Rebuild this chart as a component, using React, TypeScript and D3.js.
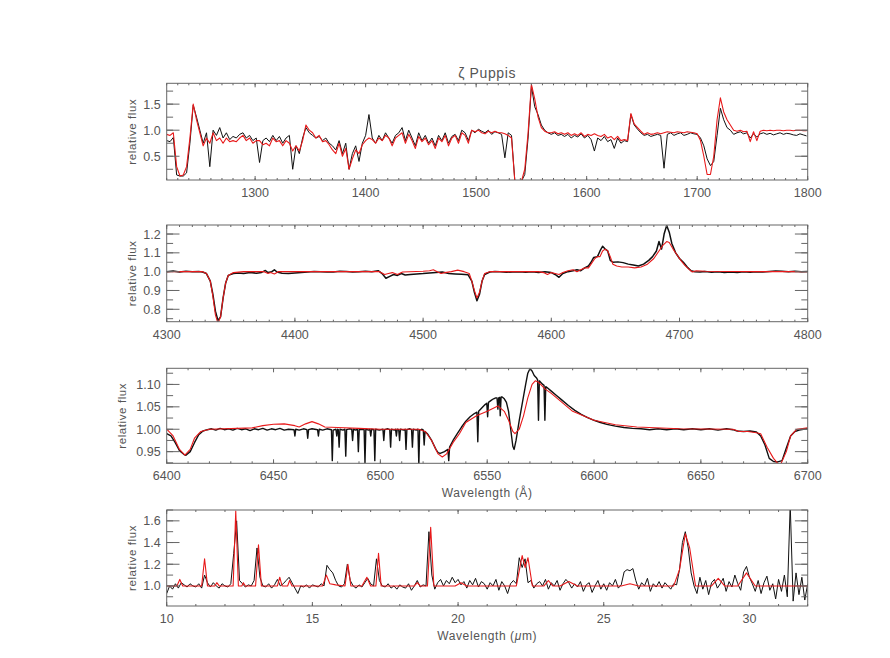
import React from "react";
import * as d3 from "d3";

type Pt = [number, number];

// ---------- Panel 1: UV (regular wavelength grid) ----------
const uvStart = 1220;
const uvStep = 3;
const uvObs = [
  0.80,0.78,0.86,0.14,0.12,0.12,0.18,0.75,1.48,1.25,
  1.00,0.75,0.95,0.30,1.00,0.90,1.05,0.85,0.95,0.82,
  0.88,0.85,0.92,0.95,0.85,0.90,0.80,0.85,0.38,0.80,
  0.85,0.78,0.90,0.80,0.88,0.75,0.85,0.90,0.25,0.70,
  0.55,0.85,1.05,0.95,0.90,0.85,0.88,0.80,0.85,0.75,
  0.70,0.62,0.80,0.55,0.75,0.25,0.55,0.70,0.40,0.75,
  0.90,1.30,0.85,0.75,0.90,0.80,0.95,0.85,0.75,0.90,
  0.95,1.05,0.80,1.00,0.85,0.70,0.95,0.80,0.90,0.75,
  0.85,0.70,0.90,0.80,0.95,0.75,0.88,0.92,0.80,1.00,
  0.95,0.80,1.00,0.95,1.02,0.98,0.95,1.00,0.92,0.97,
  0.95,0.92,0.47,0.95,0.90,0.03,0.02,0.02,0.15,0.85,
  1.85,1.45,1.30,1.10,1.00,0.95,0.92,0.95,0.90,0.92,
  0.88,0.92,0.85,0.90,0.87,0.93,0.85,0.90,0.82,0.60,
  0.85,0.80,0.88,0.78,0.82,0.65,0.85,0.75,0.80,0.78,
  1.30,1.10,1.02,0.95,0.90,0.92,0.88,0.90,0.92,0.90,
  0.27,0.92,0.95,0.90,0.93,0.95,0.90,0.92,0.95,0.93,
  0.92,0.85,0.70,0.45,0.32,0.40,0.90,1.42,1.20,1.05,
  1.00,0.92,0.95,0.97,0.93,0.95,0.85,0.93,0.87,0.93,
  0.95,0.92,0.94,0.91,0.93,0.95,0.92,0.94,0.93,0.91,
  0.90,0.93,0.91,0.89,
];
const uvModel = [
  0.92,0.90,0.95,0.30,0.12,0.14,0.30,0.85,1.50,1.20,
  0.95,0.70,0.85,0.75,0.95,0.80,0.85,0.75,0.85,0.78,
  0.80,0.78,0.85,0.90,0.80,0.85,0.75,0.80,0.80,0.72,
  0.75,0.70,0.85,0.78,0.80,0.70,0.80,0.75,0.60,0.70,
  0.60,0.80,1.10,1.00,0.95,0.85,0.90,0.78,0.80,0.72,
  0.62,0.55,0.75,0.50,0.65,0.25,0.45,0.62,0.55,0.72,
  0.80,0.85,0.82,0.75,0.85,0.80,0.90,0.85,0.70,0.85,
  0.90,0.95,0.75,0.92,0.80,0.65,0.88,0.78,0.85,0.72,
  0.80,0.65,0.85,0.78,0.90,0.70,0.85,0.90,0.75,0.95,
  0.90,0.75,1.00,0.97,1.00,0.95,0.93,0.98,0.95,0.98,
  0.95,0.95,0.93,0.90,0.85,0.02,0.02,0.02,0.25,0.95,
  1.88,1.60,1.25,1.05,0.98,0.95,0.95,0.97,0.93,0.95,
  0.92,0.95,0.90,0.93,0.90,0.95,0.88,0.92,0.90,0.93,
  0.90,0.88,0.92,0.85,0.88,0.82,0.88,0.80,0.82,0.80,
  1.32,1.12,1.05,0.98,0.92,0.95,0.92,0.93,0.95,0.93,
  0.95,0.97,0.96,0.95,0.97,0.96,0.95,0.97,0.96,0.95,
  0.93,0.80,0.50,0.15,0.15,0.50,1.20,1.62,1.35,1.20,
  1.10,1.00,0.98,1.00,0.97,0.98,0.78,0.97,0.80,0.98,
  1.00,0.99,1.00,0.99,1.00,1.00,0.99,1.00,1.00,0.99,
  1.00,1.00,0.99,0.99,
];

// ---------- Panel 2: optical blue ----------
const optObs: Pt[] = [
  [4300,1.000],[4305,1.003],[4310,0.998],[4315,1.002],[4320,0.999],[4325,1.001],[4328,0.998],[4331,0.990],
  [4334,0.950],[4336,0.880],[4338,0.790],[4340,0.740],[4342,0.760],[4344,0.860],[4346,0.940],[4348,0.980],
  [4352,0.990],[4356,0.993],[4360,0.990],[4365,0.995],[4370,0.992],[4374,0.996],[4377,1.006],[4379,0.995],
  [4382,1.000],[4384,1.010],[4386,0.998],[4390,0.992],[4395,0.990],[4400,0.993],[4405,0.996],[4410,0.998],
  [4415,1.001],[4420,1.000],[4425,0.998],[4430,0.998],[4435,1.002],[4440,1.001],[4445,0.998],[4450,0.999],
  [4455,1.002],[4460,1.000],[4465,1.005],[4468,0.990],[4471,0.965],[4474,0.975],[4477,0.985],[4480,0.980],
  [4483,0.990],[4486,0.982],[4490,0.985],[4495,0.988],[4500,0.990],[4505,0.993],[4510,0.996],[4515,0.998],
  [4520,0.990],[4525,0.988],[4530,0.986],[4535,0.984],[4538,0.950],[4540,0.890],[4542,0.845],[4544,0.880],
  [4546,0.950],[4548,0.985],[4552,0.998],[4556,1.001],[4560,1.000],[4565,0.997],[4570,0.998],[4575,1.000],
  [4580,0.997],[4585,0.999],[4590,0.996],[4595,0.999],[4600,0.995],[4603,0.985],[4606,0.970],[4609,0.990],
  [4613,1.000],[4617,1.005],[4620,1.010],[4623,1.005],[4626,1.020],[4629,1.030],[4631,1.050],[4633,1.075],
  [4636,1.080],[4638,1.110],[4640,1.135],[4642,1.120],[4644,1.110],[4646,1.060],[4648,1.050],[4652,1.052],
  [4656,1.048],[4660,1.040],[4664,1.035],[4668,1.030],[4672,1.040],[4676,1.060],[4679,1.080],[4682,1.110],
  [4684,1.160],[4686,1.120],[4688,1.200],[4690,1.245],[4692,1.210],[4694,1.150],[4697,1.100],[4700,1.070],
  [4703,1.050],[4706,1.025],[4709,1.005],[4712,1.000],[4716,0.998],[4720,1.001],[4725,0.997],[4730,0.999],
  [4735,0.996],[4740,0.998],[4745,0.996],[4750,0.999],[4755,0.997],[4760,1.000],[4765,0.998],[4770,1.001],
  [4775,1.003],[4780,1.002],[4785,1.000],[4790,1.002],[4795,1.000],[4800,1.001],
];
const optModel: Pt[] = [
  [4300,1.0],[4328,1.0],[4331,0.99],[4334,0.95],[4336,0.87],[4338,0.77],[4340,0.725],[4342,0.76],
  [4344,0.86],[4346,0.94],[4348,0.98],[4352,0.995],[4360,1.0],[4376,1.0],[4379,0.99],[4381,0.995],
  [4384,0.988],[4387,1.0],[4400,1.0],[4460,1.0],[4466,1.0],[4470,0.985],[4473,0.99],[4476,0.995],
  [4480,0.985],[4484,0.998],[4500,1.002],[4505,1.005],[4508,1.01],[4511,1.0],[4514,0.99],[4517,0.995],
  [4522,1.0],[4527,1.008],[4532,1.0],[4536,0.99],[4538,0.95],[4540,0.9],[4542,0.86],[4544,0.89],
  [4546,0.95],[4548,0.99],[4552,1.0],[4590,1.0],[4594,0.995],[4597,0.985],[4600,0.995],[4603,0.99],
  [4606,0.985],[4609,0.995],[4613,1.005],[4617,1.01],[4620,1.0],[4623,1.01],[4626,1.02],[4629,1.02],
  [4631,1.04],[4634,1.07],[4636,1.08],[4638,1.08],[4640,1.11],[4642,1.12],[4644,1.11],[4646,1.08],
  [4648,1.04],[4651,1.03],[4655,1.025],[4660,1.025],[4665,1.02],[4670,1.025],[4675,1.04],[4680,1.07],
  [4684,1.11],[4687,1.14],[4690,1.16],[4692,1.155],[4695,1.12],[4698,1.09],[4701,1.06],[4704,1.035],
  [4707,1.015],[4710,0.998],[4713,1.005],[4720,1.002],[4760,1.0],[4800,1.0],
];

// ---------- Panel 3: H-alpha region ----------
const haObs: Pt[] = [
  [6400,0.99],[6402,0.985],[6404,0.97],[6406,0.952],[6408,0.944],[6409,0.942],[6411,0.95],[6413,0.97],
  [6415,0.988],[6417,0.996],[6419,0.999],[6421,1.001],[6423,0.998],[6425,1.002],[6427,0.999],[6429,1.001],
  [6431,0.998],[6433,1.002],[6435,0.999],[6437,1.001],[6439,0.997],[6441,1.001],[6443,0.999],[6445,1.002],
  [6447,0.998],[6449,1.001],[6451,0.999],[6453,1.002],[6455,0.998],[6457,1.0],
  [6459.6,0.999],[6460,0.985],[6460.4,1.0],[6462,0.998],[6464,1.001],[6465.6,0.999],[6466,0.98],[6466.4,0.999],
  [6468,1.001],[6470.6,0.999],[6471,0.985],[6471.4,1.0],[6473,0.998],[6475,1.001],[6477.1,0.999],[6477.5,0.93],
  [6477.9,0.998],[6479.2,1.0],[6479.6,0.985],[6480,1.0],[6480.3,0.999],[6480.7,0.96],[6481.1,1.0],[6482.5,0.998],
  [6483.4,1.0],[6483.8,0.94],[6484.2,0.999],[6485.5,1.001],[6486.6,1.0],[6487,0.975],[6487.4,1.0],[6488.5,0.998],
  [6489.3,1.0],[6489.7,0.95],[6490.1,0.999],[6491.5,1.0],[6492.4,0.999],[6492.8,0.925],[6493.2,1.0],[6494.5,0.998],
  [6495.1,1.0],[6495.5,0.985],[6495.9,1.0],[6497,0.999],[6497.4,0.93],[6497.8,1.0],[6499.5,0.998],[6501.2,1.0],
  [6501.6,0.975],[6502,0.999],[6503.5,1.001],[6504.4,0.999],[6504.8,0.96],[6505.2,1.0],[6506.5,0.998],[6507.1,1.0],
  [6507.5,0.985],[6507.9,1.0],[6508.6,0.999],[6509,0.975],[6509.4,1.0],[6511,0.998],[6511.6,1.0],[6512,0.955],
  [6512.4,0.999],[6513.8,1.001],[6514.6,0.999],[6515,0.96],[6515.4,1.0],[6516.8,0.998],[6517.6,1.0],[6518,0.92],
  [6518.4,0.998],[6519.5,1.0],[6520.1,0.998],[6520.5,0.965],[6520.9,0.995],
  [6522,0.99],[6524,0.975],[6526,0.955],[6527,0.948],[6528,0.946],[6530,0.95],[6531.6,0.955],[6532,0.93],
  [6532.4,0.96],[6534,0.975],[6536,0.99],[6538,1.005],[6540,1.018],[6542,1.028],[6544,1.035],[6545.2,1.038],
  [6545.6,0.972],[6546,1.04],[6547,1.045],[6549,1.055],[6549.8,1.058],[6550.2,1.028],[6550.6,1.06],[6552,1.065],
  [6553,1.068],[6554,1.07],[6554.6,1.07],[6555,1.045],[6555.4,1.07],[6555.8,1.071],[6556.1,1.03],[6556.5,1.072],
  [6557,1.072],[6558,1.068],[6559,1.06],[6560,1.04],[6561,1.0],[6562,0.962],[6562.6,0.955],[6563.5,0.975],
  [6565,1.02],[6566.5,1.06],[6568,1.1],[6569,1.125],[6570,1.135],[6571,1.13],[6572,1.12],[6573,1.115],
  [6573.6,1.11],[6574,1.02],[6574.4,1.108],[6575,1.105],[6576,1.1],[6576.6,1.098],[6577,1.02],[6577.4,1.095],
  [6578,1.093],[6580,1.085],[6582,1.077],[6585,1.065],[6588,1.053],[6591,1.042],
  [6594,1.033],[6597,1.026],[6600,1.02],[6603,1.015],[6606,1.011],[6610,1.007],[6614,1.004],[6618,1.002],
  [6622,1.001],[6626,0.999],[6630,1.001],[6634,0.999],[6638,1.001],[6642,0.999],[6646,1.001],[6650,0.999],
  [6654,1.001],[6658,0.998],[6662,1.001],[6665,0.999],[6667,0.996],[6670,0.995],[6673,0.996],[6676,0.994],
  [6678,0.985],[6680,0.965],[6682,0.935],[6684,0.928],[6686,0.927],[6688,0.93],[6690,0.958],[6692,0.985],
  [6694,0.995],[6696,0.998],[6698,1.0],[6700,1.002],
];
const haModel: Pt[] = [
  [6400,1.0],[6403,0.985],[6406,0.955],[6408.5,0.942],[6411,0.955],[6413,0.98],[6416,0.995],[6420,1.0],
  [6440,1.003],[6445,1.008],[6450,1.011],[6455,1.012],[6460,1.008],[6462,1.005],[6465,1.012],[6468,1.017],
  [6471,1.012],[6474,1.005],[6480,1.004],[6490,1.002],[6500,1.0],[6518,1.0],[6521,0.995],[6524,0.975],
  [6527,0.945],[6529,0.938],[6531,0.945],[6534,0.97],[6537,0.99],[6540,1.015],[6545,1.03],[6550,1.04],
  [6555,1.052],[6558,1.04],[6560,1.02],[6562,0.995],[6563,0.99],[6565,1.0],[6567,1.03],[6569,1.07],
  [6571,1.1],[6572.5,1.108],[6574,1.105],[6577,1.09],[6580,1.08],[6585,1.06],[6590,1.04],[6600,1.02],
  [6610,1.01],[6620,1.005],[6640,1.001],[6665,1.0],[6668,0.995],[6672,0.995],[6676,0.992],[6678,0.99],
  [6681,0.96],[6684,0.935],[6687,0.918],[6690,0.95],[6692,0.985],[6695,1.0],[6700,1.003],
];

// ---------- Panel 4: mid-IR (regular grid in micron) ----------
const irStart = 10;
const irStep = 0.1;
const irObs = [
  0.93,1.00,0.97,1.02,0.98,1.03,1.01,0.99,1.02,1.00,
  0.99,1.02,0.98,1.10,1.03,0.99,1.03,1.00,0.98,1.02,
  1.00,0.99,1.02,1.30,1.60,1.05,1.02,0.99,1.01,1.00,
  1.05,1.35,1.08,1.00,0.99,1.02,0.98,1.01,1.06,1.00,
  1.02,1.05,1.08,1.03,0.98,0.93,1.00,0.99,1.01,0.98,
  1.01,1.00,0.99,1.02,1.00,1.19,1.15,1.12,1.05,1.00,
  0.99,1.02,1.20,1.05,1.00,0.98,1.01,0.99,1.03,1.07,
  1.02,1.00,1.25,1.05,1.00,0.99,1.02,0.98,1.00,0.97,
  1.01,0.99,0.98,1.02,0.96,1.00,1.05,0.99,1.01,1.00,
  1.50,1.10,0.97,1.03,1.06,1.00,1.05,1.02,1.08,1.03,
  1.06,1.01,1.04,0.98,1.05,1.01,1.07,0.99,1.04,1.02,
  0.97,1.03,1.00,1.06,0.96,1.04,1.00,0.93,1.02,1.05,
  1.02,1.26,1.17,1.25,1.03,1.05,0.98,1.02,1.04,1.00,
  1.06,0.97,1.03,1.00,1.05,0.96,1.02,1.06,1.03,0.98,
  1.02,0.99,1.04,0.95,1.01,1.03,0.94,1.00,1.05,0.97,
  1.02,0.96,1.03,1.00,1.06,0.98,1.01,1.13,1.15,1.14,
  1.16,1.05,0.97,1.03,1.00,1.07,0.95,1.02,0.99,1.04,
  0.98,1.03,1.00,0.97,1.02,1.01,1.15,1.40,1.50,1.35,
  1.12,1.00,0.93,1.08,0.97,1.05,0.92,1.03,1.06,0.98,
  1.02,1.07,0.95,1.04,0.99,1.10,1.02,0.96,1.13,1.18,
  1.08,1.02,0.95,1.05,0.93,1.03,1.09,0.96,1.02,0.88,
  1.06,0.95,1.10,0.90,1.75,0.86,1.12,0.92,1.08,0.87,
  1.02,
];
const irModel: Pt[] = [
  [10,1.0],[10.35,1.0],[10.45,1.06],[10.55,1.0],[11.2,1.0],[11.3,1.25],[11.4,1.0],[11.65,1.0],
  [11.72,1.03],[11.8,1.0],[12.28,1.0],[12.37,1.69],[12.46,1.0],[12.58,1.0],[12.63,1.03],[12.7,1.0],
  [13.05,1.0],[13.15,1.38],[13.25,1.0],[13.8,1.0],[13.88,1.08],[13.96,1.0],[14.15,1.0],[14.22,1.05],
  [14.3,1.0],[15.35,1.0],[15.48,1.1],[15.6,1.02],[15.8,1.01],[16.12,1.0],[16.22,1.2],[16.32,1.0],
  [16.7,1.0],[16.87,1.08],[17.0,1.0],[17.18,1.0],[17.27,1.3],[17.36,1.0],[18.5,1.0],[18.6,1.03],
  [18.7,1.0],[18.95,1.0],[19.06,1.54],[19.17,1.0],[19.9,1.0],[20.1,1.03],[20.3,1.0],[22.0,1.0],
  [22.2,1.28],[22.3,1.17],[22.4,1.26],[22.55,1.0],[22.95,1.0],[23.1,1.05],[23.25,1.0],[23.5,1.0],
  [23.8,1.04],[24.1,1.0],[25.6,1.0],[25.9,1.02],[26.2,1.0],[27.4,1.0],[27.6,1.15],[27.8,1.48],
  [27.95,1.35],[28.15,1.0],[28.7,1.0],[28.93,1.07],[29.15,1.0],[29.6,1.0],[29.9,1.12],[30.2,1.0],
  [32,1.0],
];

const FONT = "'Liberation Sans', Arial, sans-serif";
const TXT = "#555";
const AX = "#666";
const RED = "#e8191a";
const LEFT = 166.7;
const RIGHT = 807.7;

function stepTicks(d0: number, d1: number, step: number): number[] {
  const lo = Math.min(d0, d1), hi = Math.max(d0, d1);
  const start = Math.ceil(lo / step - 1e-9);
  const end = Math.floor(hi / step + 1e-9);
  return d3.range(start, end + 1).map((k) => +(k * step).toFixed(6));
}

interface PanelProps {
  id: string;
  top: number;
  bottom: number;
  xDomain: [number, number];
  yDomain: [number, number];
  xMajor: number;
  xMinor: number;
  yMajor: number;
  yMinor: number;
  yFmt: string;
  obs: Pt[];
  model: Pt[];
  obsWidth: number;
  yLabelOffset: number;
  xLabel?: React.ReactNode;
}

function Panel(p: PanelProps) {
  const x = d3.scaleLinear().domain(p.xDomain).range([LEFT, RIGHT]);
  const y = d3.scaleLinear().domain(p.yDomain).range([p.bottom, p.top]);
  const line = d3.line<Pt>().x((d) => x(d[0])).y((d) => y(d[1]));
  const xMaj = stepTicks(p.xDomain[0], p.xDomain[1], p.xMajor);
  const xMin = stepTicks(p.xDomain[0], p.xDomain[1], p.xMinor);
  const yMaj = stepTicks(p.yDomain[0], p.yDomain[1], p.yMajor);
  const yMin = stepTicks(p.yDomain[0], p.yDomain[1], p.yMinor);
  const fmt = d3.format(p.yFmt);
  const yMajLen = 12.8, yMinLen = 6.4, xMajLen = 4, xMinLen = 2;
  const h = p.bottom - p.top;
  return (
    <g>
      <defs>
        <clipPath id={p.id}>
          <rect x={LEFT} y={p.top} width={RIGHT - LEFT} height={h} />
        </clipPath>
      </defs>
      <g clipPath={`url(#${p.id})`}>
        <path d={line(p.obs) || ""} fill="none" stroke="#111" strokeWidth={p.obsWidth} strokeLinejoin="round" />
        <path d={line(p.model) || ""} fill="none" stroke={RED} strokeWidth={1.1} strokeLinejoin="round" />
      </g>
      <rect x={LEFT} y={p.top} width={RIGHT - LEFT} height={h} fill="none" stroke={AX} strokeWidth={1} />
      {xMin.map((v) => (
        <g key={"xm" + v} stroke={AX} strokeWidth={1}>
          <line x1={x(v)} x2={x(v)} y1={p.bottom} y2={p.bottom - xMinLen} />
          <line x1={x(v)} x2={x(v)} y1={p.top} y2={p.top + xMinLen} />
        </g>
      ))}
      {xMaj.map((v) => (
        <g key={"xM" + v}>
          <line x1={x(v)} x2={x(v)} y1={p.bottom} y2={p.bottom - xMajLen} stroke={AX} />
          <line x1={x(v)} x2={x(v)} y1={p.top} y2={p.top + xMajLen} stroke={AX} />
          <text x={x(v)} y={p.bottom + 17} textAnchor="middle" fontSize={12.5} fill={TXT} fontFamily={FONT}>
            {String(v)}
          </text>
        </g>
      ))}
      {yMin.map((v) => (
        <g key={"ym" + v} stroke={AX} strokeWidth={1}>
          <line x1={LEFT} x2={LEFT + yMinLen} y1={y(v)} y2={y(v)} />
          <line x1={RIGHT} x2={RIGHT - yMinLen} y1={y(v)} y2={y(v)} />
        </g>
      ))}
      {yMaj.map((v) => (
        <g key={"yM" + v}>
          <line x1={LEFT} x2={LEFT + yMajLen} y1={y(v)} y2={y(v)} stroke={AX} />
          <line x1={RIGHT} x2={RIGHT - yMajLen} y1={y(v)} y2={y(v)} stroke={AX} />
          <text x={LEFT - 6} y={y(v) + 4.5} textAnchor="end" fontSize={12.5} fill={TXT} fontFamily={FONT}>
            {fmt(v)}
          </text>
        </g>
      ))}
      <text
        transform={`translate(${LEFT - p.yLabelOffset},${(p.top + p.bottom) / 2}) rotate(-90)`}
        textAnchor="middle"
        fontSize={11.5}
        fill={TXT}
        fontFamily={FONT}
        letterSpacing={0.6}
      >
        relative flux
      </text>
      {p.xLabel ? (
        <text x={(LEFT + RIGHT) / 2} y={p.bottom + 34} textAnchor="middle" fontSize={12} fill={TXT} fontFamily={FONT} letterSpacing={0.6}>
          {p.xLabel}
        </text>
      ) : null}
    </g>
  );
}

export default function App() {
  const uvObsPts: Pt[] = uvObs.map((f, i) => [uvStart + i * uvStep, f]);
  const uvModelPts: Pt[] = uvModel.map((f, i) => [uvStart + i * uvStep, f]);
  const irObsPts: Pt[] = irObs.map((f, i) => [irStart + i * irStep, f]);
  return (
    <svg width={890} height={658} style={{ position: "absolute", left: 0, top: 0, background: "#fff" }}>
      <rect x={0} y={0} width={890} height={658} fill="#fff" />
      <text x={(LEFT + RIGHT) / 2} y={78} textAnchor="middle" fontSize={14} fill={TXT} fontFamily={FONT} letterSpacing={0.6}>
        ζ Puppis
      </text>
      <Panel id="c1" top={83.3} bottom={180} xDomain={[1220, 1800]} yDomain={[0.044, 1.9]}
        xMajor={100} xMinor={10} yMajor={0.5} yMinor={0.25} yFmt=".1f"
        obs={uvObsPts} model={uvModelPts} obsWidth={1} yLabelOffset={31} />
      <Panel id="c2" top={225} bottom={321.7} xDomain={[4300, 4800]} yDomain={[0.734, 1.248]}
        xMajor={100} xMinor={10} yMajor={0.1} yMinor={0.05} yFmt=".1f"
        obs={optObs} model={optModel} obsWidth={1.5} yLabelOffset={31} />
      <Panel id="c3" top={368.3} bottom={463.3} xDomain={[6400, 6700]} yDomain={[0.924, 1.136]}
        xMajor={50} xMinor={10} yMajor={0.05} yMinor={0.025} yFmt=".2f"
        obs={haObs} model={haModel} obsWidth={1.4} yLabelOffset={41} xLabel="Wavelength (Å)" />
      <Panel id="c4" top={510} bottom={606} xDomain={[10, 32]} yDomain={[0.815, 1.7]}
        xMajor={5} xMinor={1} yMajor={0.2} yMinor={0.1} yFmt=".1f"
        obs={irObsPts} model={irModel} obsWidth={1} yLabelOffset={31}
        xLabel={<>Wavelength (<tspan fontStyle="italic">μ</tspan>m)</>} />
    </svg>
  );
}
